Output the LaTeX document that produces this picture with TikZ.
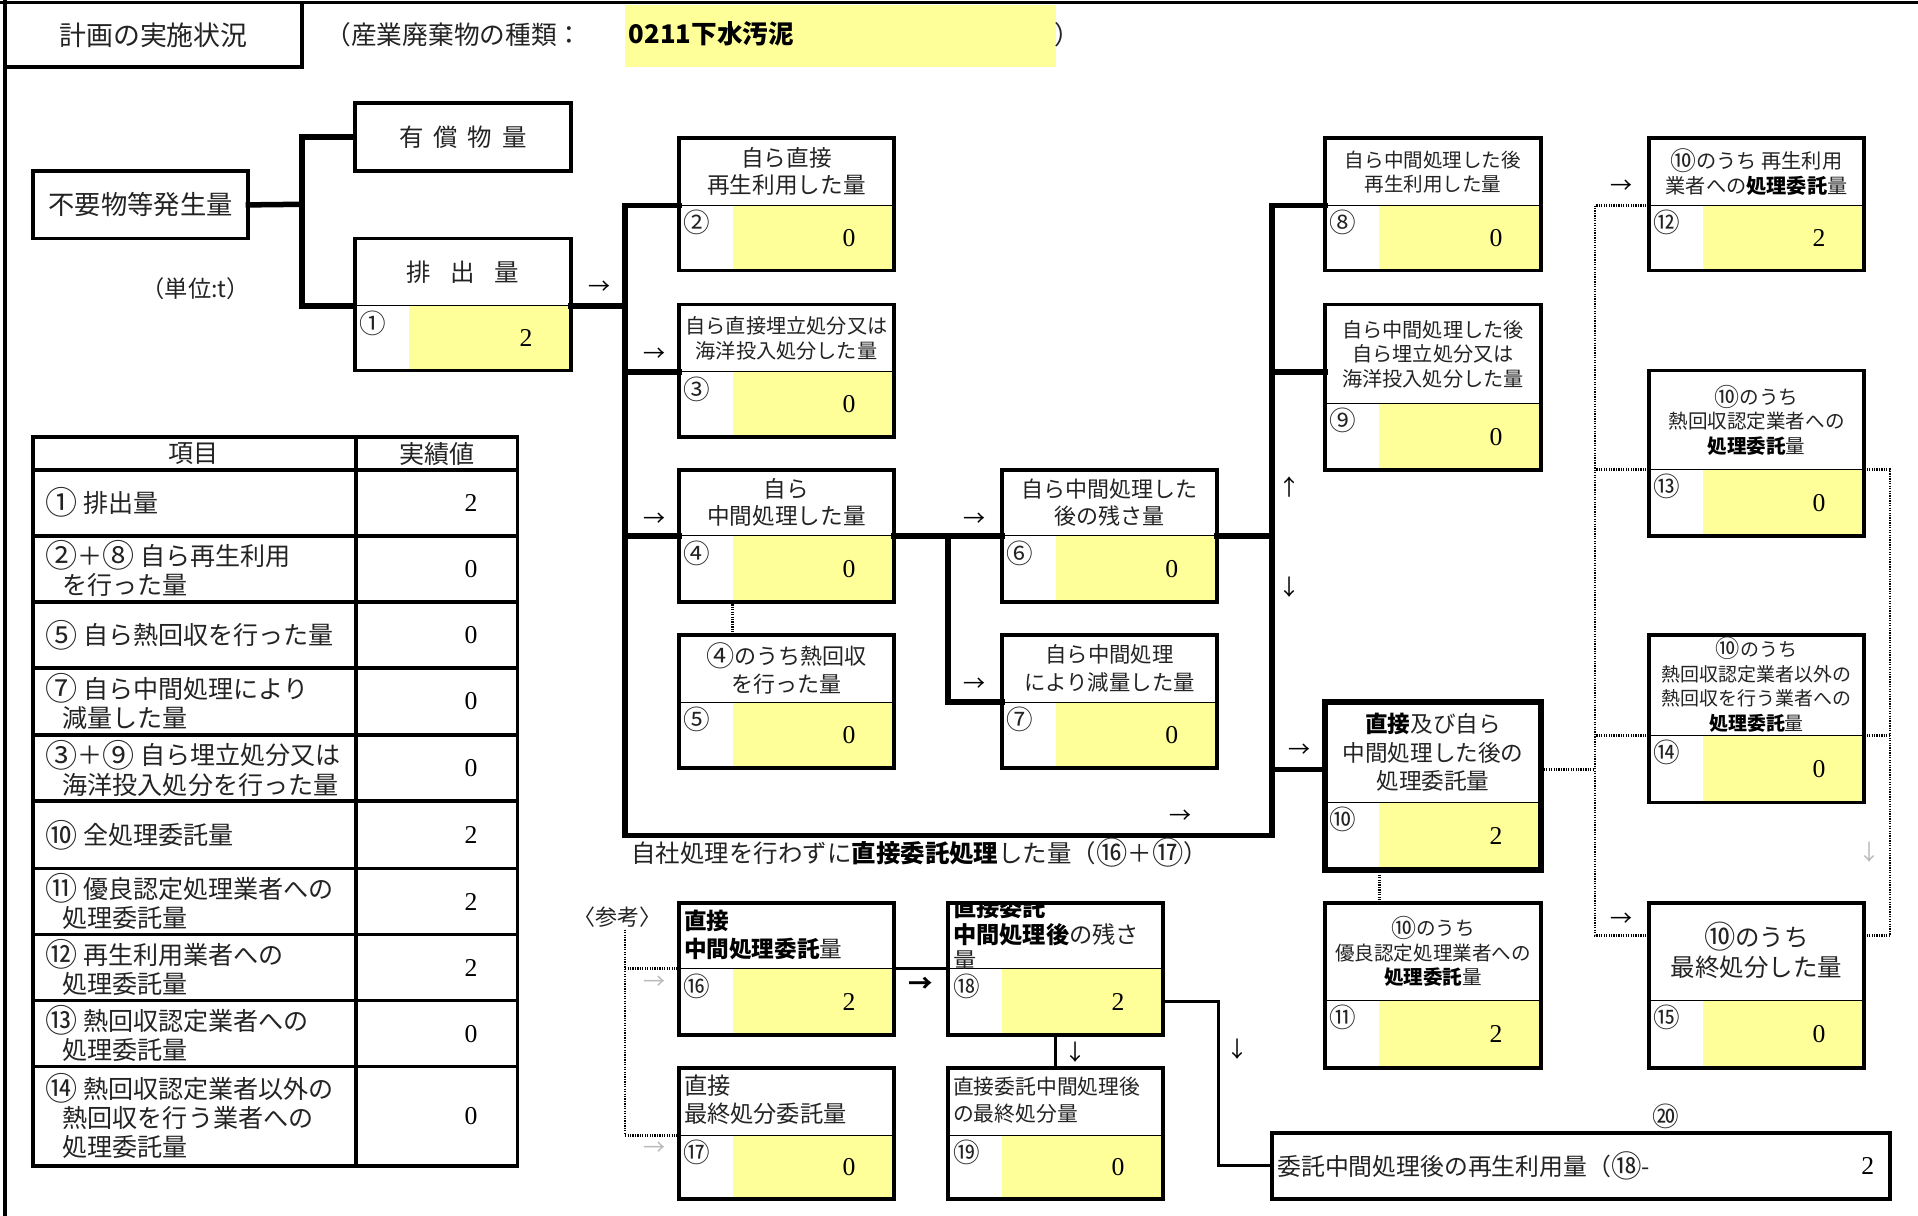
\documentclass[tikz,border=0pt]{standalone}
\usepackage{fontspec}
\setmainfont{Noto Sans CJK JP}
\newfontfamily\numf{Liberation Serif}
\usetikzlibrary{fit}
\definecolor{yel}{RGB}{255,255,153}
\definecolor{txt}{RGB}{35,35,35}
\newcommand\fs[2]{\fontsize{#1}{#2}\selectfont}
\newcommand\cn[1]{\raisebox{-0.09em}{\scalebox{1.28}{#1}}}
% name, left, top, right, divider, bottom, number, value
\newcommand\qbox[8]{%
  \fill[yel] ({#2+44},#5) rectangle (#4,#6);
  \draw[divl] (#2,#5) -- (#4,#5);
  \node[fit={(#2,#3) (#4,#6)}, bx] (#1) {};
  \coordinate (#1-dw) at (#2,#5);
  \coordinate (#1-de) at (#4,#5);
  \coordinate (#1-hc) at ({(#2+#4)/2},{(#3+#5)/2});
  \node[cnum] (#1-n) at ({#2+15},{#5+14}) {\cn{#7}};
  \node[val] (#1-v) at ({#4-37},{(#5+#6)/2}) {#8};
}
\begin{document}
\begin{tikzpicture}[x=1pt,y=-1pt,
  bx/.style={draw, line width=3pt, inner sep=0pt, outer sep=0pt},
  divl/.style={line width=1pt},
  conn/.style={line width=4.5pt, line cap=rect},
  tconn/.style={line width=2.5pt},
  dotl/.style={line width=2.2pt, dash pattern=on 1pt off 1pt},
  cnum/.style={font=\fs{17}{17}, inner sep=0pt, text=txt},
  val/.style={font=\numf\fs{21}{21}, inner sep=0pt},
  hd/.style={align=center, inner sep=0pt, text=txt},
  hl/.style={align=left, inner sep=0pt, anchor=west, text=txt},
  tx/.style={inner sep=0pt, text=txt},
  arr/.style={font=\fs{18}{18}, inner sep=0pt},
  garr/.style={font=\fs{18}{18}, inner sep=0pt, text=gray!55},
  tcell/.style={align=left, anchor=west, inner sep=0pt, font=\fs{20.5}{24}, text=txt},
  tval/.style={font=\numf\fs{21}{21}, inner sep=0pt}
]
\useasboundingbox (0,0) rectangle (1568,994);
% frame
\draw[line width=3pt] (0,2) -- (1568,2);
\draw[line width=3pt] (4,0) -- (4,994);
% title
\node[fit={(4,2) (247,55)}, bx] (title) {};
\node[tx, font=\fs{22}{22}] (titlet) at (title.center) {計画の実施状況};
\node[tx, anchor=west, font=\fs{21}{21}] (kind) at (266,28) {（産業廃棄物の種類：};
\fill[yel] (511,4) rectangle (863,55);
\node[inner sep=0pt, anchor=west, font=\bfseries\fs{21}{21}] (kindv) at (514,28) {0211下水汚泥};
\node[tx, anchor=west, font=\fs{21}{21}] (kindc) at (862,28) {）};

% left part
\node[fit={(27,140) (203,195)}, bx] (gen) {};
\node[tx, font=\fs{21.5}{21.5}] at (gen.center) {不要物等発生量};
\node[fit={(290,84) (467,140)}, bx] (yus) {};
\node[tx, font=\fs{20}{20}] at (yus.center) {有\hspace{8pt}償\hspace{8pt}物\hspace{8pt}量};
\qbox{b1}{290}{195}{467}{250}{303}{①}{2}
\node[hd, font=\fs{20}{20}] at (b1-hc) {排\hspace{16pt}出\hspace{16pt}量};
\node[tx, font=\fs{19}{19}] (unit) at (160,236) {（単位:t）};
\coordinate (J0) at (247,167);
\draw[conn] (gen.east) -- (J0);
\draw[conn] (yus.west) -| (J0) |- (b1-dw);
\node[arr] at (490,235) {→};

% table
\node[fit={(27,357) (423,953)}, bx] (tbl) {};
\draw[line width=3pt] (291,357) -- (291,953);
\foreach \yy in {384,438,492,546,601,655,710,764,818,872}
  \draw[line width=3pt] (27,\yy) -- (423,\yy);
\node[tx, font=\fs{20.5}{20.5}] (th1) at (158,371) {項目};
\node[tx, font=\fs{20.5}{20.5}] (th2) at (357,371) {実績値};
\node[tcell] (r1) at (37,411) {\cn{①} 排出量};
\node[tcell] (r2) at (37,465) {\cn{②}＋\cn{⑧} 自ら再生利用\\\hspace*{14pt}を行った量};
\node[tcell] (r3) at (37,519) {\cn{⑤} 自ら熱回収を行った量};
\node[tcell] (r4) at (37,573.5) {\cn{⑦} 自ら中間処理により\\\hspace*{14pt}減量した量};
\node[tcell] (r5) at (37,628) {\cn{③}＋\cn{⑨} 自ら埋立処分又は\\\hspace*{14pt}海洋投入処分を行った量};
\node[tcell] (r6) at (37,682.5) {\cn{⑩} 全処理委託量};
\node[tcell] (r7) at (37,737) {\cn{⑪} 優良認定処理業者への\\\hspace*{14pt}処理委託量};
\node[tcell] (r8) at (37,791) {\cn{⑫} 再生利用業者への\\\hspace*{14pt}処理委託量};
\node[tcell] (r9) at (37,845) {\cn{⑬} 熱回収認定業者への\\\hspace*{14pt}処理委託量};
\node[tcell] (r10) at (37,912.5) {\cn{⑭} 熱回収認定業者以外の\\\hspace*{14pt}熱回収を行う業者への\\\hspace*{14pt}処理委託量};
\foreach \yy/\vv in {411/2,465/0,519/0,573.5/0,628/0,682.5/2,737/2,791/2,845/0,912.5/0}
  \node[tval] at (385,\yy) {\vv};

% boxes
\qbox{b2}{555}{113}{731}{168}{221}{②}{0}
\node[hd, font=\fs{18.5}{22}] at (b2-hc) {自ら直接\\再生利用した量};
\qbox{b3}{555}{249}{731}{304}{357}{③}{0}
\node[hd, font=\fs{16.5}{21}] at (b3-hc) {自ら直接埋立処分又は\\海洋投入処分した量};
\qbox{b4}{555}{384}{731}{438}{492}{④}{0}
\node[hd, font=\fs{18.5}{22}] at (b4-hc) {自ら\\中間処理した量};
\qbox{b5}{555}{519}{731}{574}{628}{⑤}{0}
\node[hd, font=\fs{18}{23}] at (b5-hc) {\cn{④}のうち熱回収\\を行った量};
\qbox{b6}{819}{384}{995}{438}{492}{⑥}{0}
\node[hd, font=\fs{18}{22}] at (b6-hc) {自ら中間処理した\\後の残さ量};
\qbox{b7}{819}{519}{995}{574}{628}{⑦}{0}
\node[hd, font=\fs{17.5}{23}] at (b7-hc) {自ら中間処理\\により減量した量};
\qbox{b8}{1083}{113}{1260}{168}{221}{⑧}{0}
\node[hd, font=\fs{16}{20}] at (b8-hc) {自ら中間処理した後\\再生利用した量};
\qbox{b9}{1083}{249}{1260}{330}{384}{⑨}{0}
\node[hd, font=\fs{16.5}{20}] at (b9-hc) {自ら中間処理した後\\自ら埋立処分又は\\海洋投入処分した量};
\qbox{b10}{1083}{574}{1260}{656}{711}{⑩}{2}
\draw[line width=5pt] (b10.north west) rectangle (b10.south east);
\node[hd, font=\fs{18.5}{23}] at (b10-hc) {{\bfseries\color{black}直接}及び自ら\\中間処理した後の\\処理委託量};
\qbox{b11}{1083}{738}{1260}{818}{873}{⑪}{2}
\node[hd, font=\fs{16}{20}] at (b11-hc) {\cn{⑩}のうち\\優良認定処理業者への\\{\bfseries\color{black}処理委託}量};
\qbox{b12}{1348}{113}{1524}{168}{221}{⑫}{2}
\node[hd, font=\fs{16.5}{20}] at (b12-hc) {\cn{⑩}のうち 再生利用\\業者への{\bfseries\color{black}処理委託}量};
\qbox{b13}{1348}{303}{1524}{384}{438}{⑬}{0}
\node[hd, font=\fs{16}{20}] at (b13-hc) {\cn{⑩}のうち\\熱回収認定業者への\\{\bfseries\color{black}処理委託}量};
\qbox{b14}{1348}{519}{1524}{601}{656}{⑭}{0}
\node[hd, font=\fs{15.5}{20.3}] at (b14-hc) {\cn{⑩}のうち\\熱回収認定業者以外の\\熱回収を行う業者への\\{\bfseries\color{black}処理委託}量};
\qbox{b15}{1348}{738}{1524}{818}{873}{⑮}{0}
\node[hd, font=\fs{20}{25}] at ({(1348+1524)/2},777) {\cn{⑩}のうち\\最終処分した量};

% bottom reference boxes
\node[tx, font=\fs{18}{18}] (ref) at (505,750) {〈参考〉};
\qbox{b16}{555}{738}{731}{792}{846}{⑯}{2}
\node[hl, font=\fs{18.5}{23}] at (559,764) {{\bfseries\color{black}直接}\\{\bfseries\color{black}中間処理委託}量};
\qbox{b17}{555}{873}{731}{928}{980}{⑰}{0}
\node[hl, font=\fs{19}{23}] at (559,899) {直接\\最終処分委託量};
\qbox{b18}{775}{738}{951}{792}{846}{⑱}{2}
\begin{scope}
  \clip (776.5,739.5) rectangle (949.5,791.5);
  \node[hl, font=\fs{19}{21.5}] at (779,763.5) {{\bfseries\color{black}直接委託}\\{\bfseries\color{black}中間処理後}の残さ\\量};
\end{scope}
\qbox{b19}{775}{873}{951}{928}{980}{⑲}{0}
\node[hl, font=\fs{17}{22}] at (779,899) {直接委託中間処理後\\の最終処分量};

\node[fit={(1040,926) (1545,980)}, bx] (b20) {};
\begin{scope}
  \clip (1042,928) rectangle (1349,978);
  \node[tx, anchor=west, font=\fs{19.5}{19.5}] at (1044,953) {委託中間処理後の再生利用量（\cn{⑱}-(};
\end{scope}
\node[val] (b20-v) at (1527,953) {2};
\node[cnum] (b20-n) at (1362,913) {\cn{⑳}};

% main trunks
\coordinate (T1top) at (511,168);
\coordinate (T1bot) at (511,683);
\coordinate (T2top) at (1040,168);
\coordinate (T2bot) at (1040,683);
\draw[conn] (b2-dw) -- (T1top) -- (T1bot) -- (T2bot) -- (T2top) -- (b8-dw);
\draw[conn] (b1-de) -- (b1-de -| T1top);
\draw[conn] (b3-dw) -- (b3-dw -| T1top);
\draw[conn] (b4-dw) -- (b4-dw -| T1top);
\draw[conn] (b4-de) -- (b6-dw);
\coordinate (J1) at (775,438);
\draw[conn] (J1) |- (b7-dw);
\draw[conn] (b6-de) -- (b6-de -| T2top);
\coordinate (b9-in) at (1083,304);
\draw[conn] (b9-in) -- (b9-in -| T2top);
\coordinate (b10-in) at (1083,629);
\draw[conn] (b10-in) -- (b10-in -| T2top);
\node[arr] at (535,290) {→};
\node[arr] at (535,425) {→};
\node[arr] at (965,668) {→};
\node[arr] at (797,425) {→};
\node[arr] at (797,560) {→};
\node[arr] at (1054,398) {↑};
\node[arr] at (1054,480) {↓};
\node[arr] at (1062,614) {→};
\node[tx, anchor=west, font=\fs{20}{20}] (direct) at (516,697) {自社処理を行わずに{\bfseries\color{black}直接委託処理}した量（\cn{⑯}＋\cn{⑰}）};

% dotted links
\coordinate (d4a) at (599,492); \coordinate (d4b) at (599,519);
\draw[dotl] (d4a) -- (d4b);
\coordinate (d10a) at (1128,711); \coordinate (d10b) at (1128,738);
\draw[dotl] (d10a) -- (d10b);
\coordinate (b10-out) at (1260,629);
\coordinate (V1top) at (1304,168);
\coordinate (V1bot) at (1304,765);
\draw[dotl] (b10-out) -- (b10-out -| V1top);
\draw[dotl] (b12-dw) -- (V1top) -- (V1bot) -- (b15.west |- V1bot);
\draw[dotl] (b13-dw) -- (b13-dw -| V1top);
\draw[dotl] (b14-dw) -- (b14-dw -| V1top);
\coordinate (V2top) at (1545,384);
\coordinate (V2bot) at (1545,765);
\draw[dotl] (b13-de) -- (V2top) -- (V2bot) -- (b15.east |- V2bot);
\draw[dotl] (b14-de) -- (b14-de -| V2top);
\node[arr] at (1326,153) {→};
\node[arr] at (1326,752) {→};
\node[garr] at (1528,697) {↓};

% reference dotted
\coordinate (R1) at (511,760);
\coordinate (R2) at (511,928);
\draw[dotl] (R1) -- (R2) -- (b17-dw);
\draw[dotl] (b16-dw -| R1) -- (b16-dw);
\node[garr] at (535,803) {→};
\node[garr] at (535,939) {→};

% bottom connectors
\draw[tconn] (b16-de) -- (b18-dw);
\node[arr, font=\bfseries\fs{20}{20}] at (753,805) {→};
\draw[tconn] (b18.south) -- (b19.north);
\node[arr] at (879,860) {↓};
\coordinate (K) at (996,953);
\draw[tconn] (b18-v -| b18.east) -| (K) -- (b20.west);
\node[arr] at (1012,858) {↓};
\end{tikzpicture}
\end{document}
